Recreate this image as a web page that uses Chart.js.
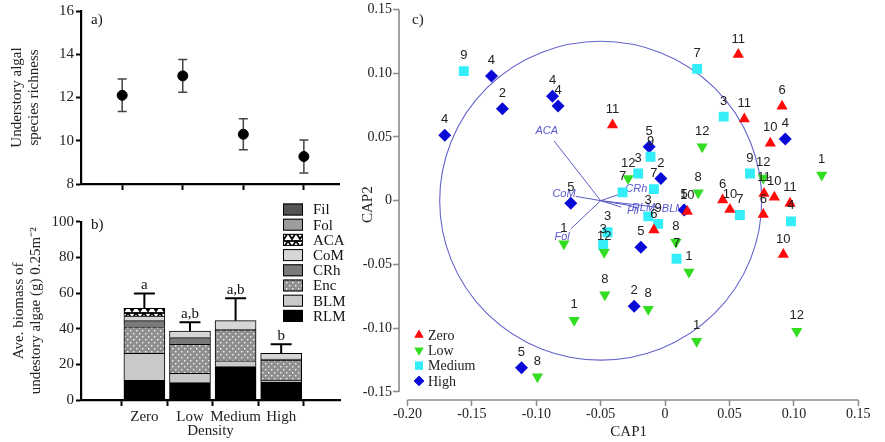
<!DOCTYPE html>
<html><head><meta charset="utf-8">
<script src="https://cdn.jsdelivr.net/npm/chart.js@4.4.1/dist/chart.umd.min.js"></script>
<style>
html,body{margin:0;padding:0;background:#fff;width:885px;height:442px;overflow:hidden}
canvas{position:absolute}
#ca{left:0;top:0}
#cb{left:0;top:200px}
#cc{left:340px;top:0}
</style></head><body>
<canvas id="ca" width="345" height="200"></canvas>
<canvas id="cb" width="352" height="242"></canvas>
<canvas id="cc" width="545" height="442"></canvas>
<script>
// ---------- DATA ----------
const densities = ['Zero', 'Low', 'Medium', 'High'];
// panel a: species richness (mean, SE)
const richnessMean = [12.1, 13.0, 10.3, 9.27];
const richnessSE = [0.75, 0.76, 0.72, 0.76];
const richnessTicks = [8, 10, 12, 14, 16];
// panel b: biomass by group (stack bottom -> top)
const groupNames = ['RLM', 'BLM', 'Enc', 'CRh', 'CoM', 'ACA', 'Fol', 'Fil'];
const RLM = [11.0, 9.7, 18.7, 10.1];
const BLM = [15.2, 5.3, 3.3, 1.1];
const Enc = [14.9, 16.2, 17.3, 11.2];
const CRh = [3.4, 3.8, 0.4, 0.5];
const CoM = [2.6, 3.7, 4.8, 3.3];
const ACA = [4.3, 0, 0, 0];
const Fol = [0, 0, 0, 0];
const Fil = [0, 0, 0, 0];
const biomassSE = [8.4, 4.9, 12.5, 5.0];
const sigLetters = ['a', 'a,b', 'a,b', 'b'];
const biomassTicks = [0, 20, 40, 60, 80, 100];
// panel c: CAP ordination
const capXTicks = [-0.20, -0.15, -0.10, -0.05, 0, 0.05, 0.10, 0.15];
const capYTicks = [-0.15, -0.10, -0.05, 0, 0.05, 0.10, 0.15];
const zeroX = [-0.0408, 0.0568, 0.0908, 0.0615, 0.0817, 0.0768, 0.0848, 0.0970, 0.0762, 0.0447, 0.0503, 0.0918, -0.0087, 0.0172];
const zeroY = [0.0594, 0.1146, 0.0740, 0.0641, 0.0451, 0.0057, 0.0026, -0.0021, -0.0109, 0.0005, -0.0070, -0.0422, -0.0229, -0.0084];
const zeroLab = ['11', '11', '6', '11', '10', '11', '10', '11', '6', '6', '10', '10', '6', '10'];
const lowX = [0.0288, 0.1216, 0.0257, -0.0287, -0.0473, -0.0786, -0.0468, -0.0706, -0.0991, -0.0131, 0.0245, 0.1022, 0.0185, 0.0084, 0.0762];
const lowY = [0.0422, 0.0201, 0.0063, 0.0174, -0.0404, -0.0338, -0.0737, -0.0938, -0.1380, -0.0852, -0.1102, -0.1023, -0.0560, -0.0326, 0.0177];
const lowLab = ['12', '1', '8', '12', '12', '1', '8', '1', '8', '8', '1', '12', '1', '8', '12'];
const medX = [-0.1563, 0.0249, 0.0455, 0.0659, 0.0581, 0.0977, -0.0209, -0.0330, -0.0113, -0.0087, -0.0131, -0.0054, -0.0447, -0.0481, 0.0089];
const medY = [0.1016, 0.1034, 0.0659, 0.0213, -0.0112, -0.0162, 0.0213, 0.0065, 0.0344, 0.0091, -0.0123, -0.0182, -0.0248, -0.0346, -0.0455];
const medLab = ['9', '7', '3', '9', '7', '4', '3', '7', '9', '7', '3', '9', '3', '3', '7'];
const highX = [-0.1348, -0.1263, -0.1711, -0.0874, -0.0831, -0.0732, -0.1115, -0.0240, -0.0188, -0.0124, -0.0033, 0.0148, 0.0933];
const highY = [0.0977, 0.0721, 0.0513, 0.0818, 0.0742, -0.0021, -0.1310, -0.0828, -0.0365, 0.0422, 0.0174, -0.0073, 0.0484];
const highLab = ['4', '2', '4', '4', '4', '5', '5', '2', '5', '5', '2', '5', '4'];
const vecOrigin = [-0.05, 0];
const vecNames = ['ACA', 'CoM', 'Fol', 'CRh', 'Fil', 'RLM', 'BLM'];
const vecX = [-0.0862, -0.0693, -0.0732, -0.0312, -0.0340, -0.0260, -0.0030];
const vecY = [0.0469, 0.0034, -0.0221, 0.0065, -0.0050, -0.0040, -0.0055];
const circleRadius = 0.125;

// ---------- helpers ----------
const SERIF = "'Liberation Serif', 'Times New Roman', serif";
const SANS = "'Liberation Sans', Arial, sans-serif";
function mkPattern(w, h, draw) {
  const c = document.createElement('canvas'); c.width = w; c.height = h;
  const g = c.getContext('2d'); draw(g);
  return g.createPattern(c, 'repeat');
}
const encPattern = mkPattern(6, 6, g => {
  g.fillStyle = '#8f8f8f'; g.fillRect(0, 0, 6, 6);
  g.fillStyle = '#f4f4f4'; g.fillRect(1, 1, 1.4, 1.4); g.fillRect(4, 4, 1.4, 1.4);
});
const acaPattern = mkPattern(8, 8, g => {
  g.fillStyle = '#fff'; g.fillRect(0, 0, 8, 8);
  g.strokeStyle = '#000'; g.lineWidth = 1.8;
  g.beginPath(); g.moveTo(0, 1); g.lineTo(4, 7); g.lineTo(8, 1); g.stroke();
  g.beginPath(); g.moveTo(0, 1); g.lineTo(8, 1); g.stroke();
});
const groupFill = {RLM: '#000000', BLM: '#c9c9c9', Enc: encPattern, CRh: '#7a7a7a', CoM: '#d6d6d6', ACA: acaPattern, Fol: '#9c9c9c', Fil: '#555555'};
const groupData = {RLM, BLM, Enc, CRh, CoM, ACA, Fol, Fil};

const baseOpts = {responsive: false, animation: false, devicePixelRatio: 1,
  plugins: {legend: {display: false}, tooltip: {enabled: false}}};

// ---------- PANEL A ----------
const errA = {
  id: 'errA',
  beforeDatasetsDraw(chart) {
    const {ctx, scales: {x, y}} = chart;
    ctx.save(); ctx.strokeStyle = '#444'; ctx.lineWidth = 1.5;
    richnessMean.forEach((m, i) => {
      const px = x.getPixelForValue(i), t = y.getPixelForValue(m + richnessSE[i]), b = y.getPixelForValue(m - richnessSE[i]);
      ctx.beginPath(); ctx.moveTo(px, t); ctx.lineTo(px, b);
      ctx.moveTo(px - 4.5, t); ctx.lineTo(px + 4.5, t);
      ctx.moveTo(px - 4.5, b); ctx.lineTo(px + 4.5, b); ctx.stroke();
    });
    ctx.restore();
  },
  afterDraw(chart) {
    const {ctx} = chart; ctx.save();
    ctx.font = '15px ' + SERIF; ctx.fillStyle = '#111'; ctx.textBaseline = 'middle';
    ctx.fillText('a)', 91, 20); ctx.restore();
  }
};
new Chart(document.getElementById('ca'), {
  type: 'scatter',
  data: {datasets: [{data: richnessMean.map((v, i) => ({x: i, y: v})), pointRadius: 5, pointBackgroundColor: '#000', pointBorderColor: '#000'}]},
  options: {...baseOpts,
    layout: {padding: {top: 8.3, right: 5, left: 0, bottom: 0}},
    scales: {
      x: {type: 'linear', min: -0.68, max: 3.58,
        afterBuildTicks: s => { s.ticks = densities.map((d, i) => ({value: i})); },
        afterFit: s => { s.height = 16; },
        ticks: {display: false},
        grid: {drawOnChartArea: false, drawTicks: true, tickLength: 6, tickColor: '#000', tickWidth: 2},
        border: {color: '#000', width: 2.2}},
      y: {min: 8, max: 16,
        afterBuildTicks: s => { s.ticks = richnessTicks.map(v => ({value: v})); },
        afterFit: s => { s.width = 81; },
        ticks: {font: {family: SERIF, size: 15}, color: '#222', padding: 2},
        grid: {drawOnChartArea: false, drawTicks: true, tickLength: 5, tickColor: '#000', tickWidth: 2},
        border: {color: '#000', width: 2.2},
        title: {display: true, text: ['Understory algal', 'species richness'], font: {family: SERIF, size: 15, lineHeight: 1.13}, color: '#222', padding: {top: 9, bottom: 0}}}
    }
  },
  plugins: [errA]
});

// ---------- PANEL B ----------
const errB = {
  id: 'errB',
  afterDatasetsDraw(chart) {
    const {ctx, scales: {x, y}} = chart;
    ctx.save(); ctx.strokeStyle = '#000'; ctx.lineWidth = 2;
    densities.forEach((d, i) => {
      const total = groupNames.reduce((s, g) => s + groupData[g][i], 0);
      const px = x.getPixelForValue(i), b = y.getPixelForValue(total), t = y.getPixelForValue(total + biomassSE[i]);
      ctx.beginPath(); ctx.moveTo(px, b); ctx.lineTo(px, t);
      ctx.moveTo(px - 10.5, t); ctx.lineTo(px + 10.5, t); ctx.stroke();
      ctx.font = '15px ' + SERIF; ctx.fillStyle = '#111'; ctx.textAlign = 'center'; ctx.textBaseline = 'alphabetic';
      ctx.fillText(sigLetters[i], px, t - 4);
    });
    // legend
    ctx.textAlign = 'left'; ctx.textBaseline = 'middle'; ctx.font = '15px ' + SERIF;
    const ds = chart.data.datasets.slice().reverse();
    ds.forEach((d, k) => {
      const yy = 9.5 + k * 15.2;
      ctx.fillStyle = d.backgroundColor; ctx.fillRect(283, yy - 6, 20, 12);
      ctx.strokeStyle = '#000'; ctx.lineWidth = 1; ctx.strokeRect(283.5, yy - 5.5, 19, 11);
      ctx.fillStyle = '#111'; ctx.fillText(d.label, 313, yy + 1);
    });
    ctx.font = '15px ' + SERIF; ctx.fillText('b)', 91, 25);
    ctx.restore();
  }
};
new Chart(document.getElementById('cb'), {
  type: 'bar',
  data: {datasets: groupNames.map(g => ({label: g, data: groupData[g].map((v, i) => ({x: i, y: v})),
    backgroundColor: groupFill[g], borderColor: '#000', borderWidth: 1, barThickness: 41}))},
  options: {...baseOpts,
    layout: {padding: {top: 21.7, right: 12, left: 0, bottom: 0}},
    scales: {
      x: {type: 'linear', stacked: true, min: -0.68, max: 3.58,
        afterBuildTicks: s => { s.ticks = densities.map((d, i) => ({value: i})); },
        afterFit: s => { s.height = 42; },
        ticks: {callback: v => densities[v], font: {family: SERIF, size: 15}, color: '#222', padding: 2, maxRotation: 0, autoSkip: false},
        grid: {drawOnChartArea: false, drawTicks: true, tickLength: 6, tickColor: '#000', tickWidth: 2},
        border: {color: '#000', width: 2.2},
        title: {display: true, text: 'Density', font: {family: SERIF, size: 15}, color: '#222', padding: {top: 0, bottom: 2}}},
      y: {stacked: true, min: 0, max: 100,
        afterBuildTicks: s => { s.ticks = biomassTicks.map(v => ({value: v})); },
        afterFit: s => { s.width = 81; },
        ticks: {font: {family: SERIF, size: 15}, color: '#222', padding: 2},
        grid: {drawOnChartArea: false, drawTicks: true, tickLength: 5, tickColor: '#000', tickWidth: 2},
        border: {color: '#000', width: 2.2},
        title: {display: true, text: ['Ave. biomass of', 'undestory algae (g) 0.25m\u207B\u00B2'], font: {family: SERIF, size: 15, lineHeight: 1.13}, color: '#222', padding: {top: 11, bottom: 0}}}
    }
  },
  plugins: [errB]
});

// ---------- PANEL C ----------
const capPlugin = {
  id: 'capPlugin',
  beforeDatasetsDraw(chart) {
    const {ctx, scales: {x, y}} = chart;
    ctx.save();
    ctx.strokeStyle = '#8a8a8a'; ctx.lineWidth = 1.6;
    ctx.beginPath();
    ctx.moveTo(chart.chartArea.left, y.getPixelForValue(capYTicks[0])); ctx.lineTo(chart.chartArea.left, y.getPixelForValue(capYTicks[capYTicks.length - 1]));
    ctx.moveTo(x.getPixelForValue(capXTicks[0]), chart.chartArea.bottom); ctx.lineTo(x.getPixelForValue(capXTicks[capXTicks.length - 1]), chart.chartArea.bottom);
    ctx.stroke();
    const cx = x.getPixelForValue(vecOrigin[0]), cy = y.getPixelForValue(vecOrigin[1]);
    const rx = x.getPixelForValue(vecOrigin[0] + circleRadius) - cx, ry = cy - y.getPixelForValue(vecOrigin[1] + circleRadius);
    ctx.strokeStyle = '#6464cc'; ctx.lineWidth = 1.1;
    ctx.beginPath(); ctx.ellipse(cx, cy, rx, ry, 0, 0, Math.PI * 2); ctx.stroke();
    ctx.strokeStyle = '#5c5cc8'; ctx.lineWidth = 1;
    ctx.font = 'italic 11px ' + SANS; ctx.fillStyle = '#5a5ad0'; ctx.textAlign = 'center'; ctx.textBaseline = 'middle';
    vecNames.forEach((n, i) => {
      const ex = x.getPixelForValue(vecX[i]), ey = y.getPixelForValue(vecY[i]);
      ctx.beginPath(); ctx.moveTo(cx, cy); ctx.lineTo(ex, ey); ctx.stroke();
      const dx = ex - cx, dy = ey - cy, L = Math.hypot(dx, dy) || 1;
      ctx.fillText(n, ex + dx / L * 12, ey + dy / L * 12);
    });
    ctx.restore();
  },
  afterDatasetsDraw(chart) {
    const {ctx} = chart;
    ctx.save();
    ctx.font = '13px ' + SANS; ctx.fillStyle = '#222'; ctx.textAlign = 'center'; ctx.textBaseline = 'middle';
    chart.data.datasets.forEach((d, di) => {
      const meta = chart.getDatasetMeta(di);
      meta.data.forEach((p, i) => ctx.fillText(d.pointLabels[i], p.x, p.y - 15.5));
    });
    ctx.font = '14px ' + SERIF; ctx.textAlign = 'left';
    chart.data.datasets.forEach((d, k) => {
      const yy = 335 + k * 15.3;
      ctx.fillStyle = d.pointBackgroundColor;
      Chart.helpers.drawPoint(ctx, {pointStyle: d.pointStyle, rotation: d.pointRotation || 0, radius: d.pointRadius * 0.8, borderWidth: 0}, 79, yy);
      ctx.fill();
      ctx.fillStyle = '#222'; ctx.fillText(d.label, 88, yy + 1);
    });
    ctx.font = '15px ' + SERIF; ctx.fillText('c)', 72, 20);
    ctx.restore();
  }
};
function capSet(label, xs, ys, labs, style, color, radius, rot) {
  return {label, data: xs.map((v, i) => ({x: v, y: ys[i]})), pointLabels: labs,
    pointStyle: style, pointRotation: rot || 0, pointRadius: radius, pointBackgroundColor: color, pointBorderColor: color, pointBorderWidth: 0};
}
new Chart(document.getElementById('cc'), {
  type: 'scatter',
  data: {datasets: [
    capSet('Zero', zeroX, zeroY, zeroLab, 'triangle', '#ff0a0a', 6.5, 0),
    capSet('Low', lowX, lowY, lowLab, 'triangle', '#33dd22', 6.5, 180),
    capSet('Medium', medX, medY, medLab, 'rect', '#33eef8', 7, 0),
    capSet('High', highX, highY, highLab, 'rectRot', '#0a0ad8', 6.5, 0)
  ]},
  options: {...baseOpts,
    layout: {padding: {top: 8, right: 26.7, left: 0, bottom: 0}},
    scales: {
      x: {type: 'linear', min: -0.2066, max: 0.15,
        afterBuildTicks: s => { s.ticks = capXTicks.map(v => ({value: v})); },
        afterFit: s => { s.height = 42; },
        ticks: {callback: v => v === 0 ? '0' : v.toFixed(2), font: {family: SERIF, size: 14}, color: '#222', padding: 0, maxRotation: 0, autoSkip: false},
        grid: {drawOnChartArea: false, drawTicks: true, tickLength: 6, tickColor: '#8a8a8a', tickWidth: 1.5},
        border: {display: false},
        title: {display: true, text: 'CAP1', font: {family: SERIF, size: 15}, color: '#222', padding: {top: 0, bottom: 1}}},
      y: {type: 'linear', min: -0.1563, max: 0.15,
        afterBuildTicks: s => { s.ticks = capYTicks.map(v => ({value: v})); },
        afterFit: s => { s.width = 59; },
        ticks: {callback: v => Math.abs(v) < 1e-9 ? '0' : v.toFixed(2), font: {family: SERIF, size: 14}, color: '#222', padding: 1},
        grid: {drawOnChartArea: false, drawTicks: true, tickLength: 6, tickColor: '#8a8a8a', tickWidth: 1.5},
        border: {display: false},
        title: {display: true, text: 'CAP2', font: {family: SERIF, size: 15}, color: '#222', padding: {top: 19, bottom: 0}}}
    }
  },
  plugins: [capPlugin]
});
</script>
</body></html>
